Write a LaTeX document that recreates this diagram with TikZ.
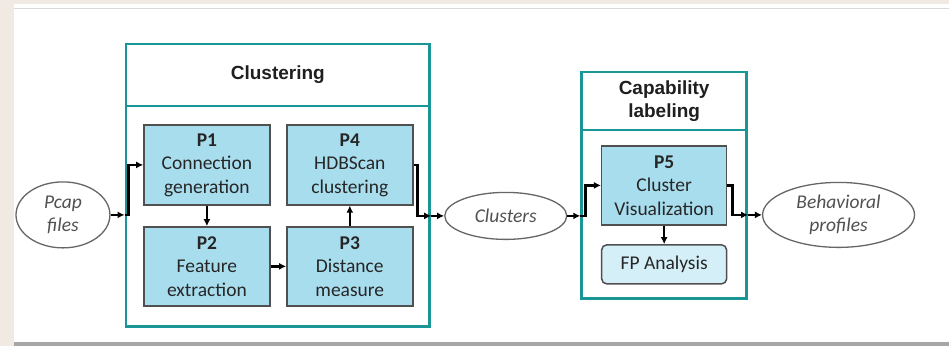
\documentclass[tikz,border=0pt]{standalone}
\usepackage{fontspec}
\setmainfont{Carlito}
\newfontfamily\titlefont{Liberation Sans}
\usetikzlibrary{arrows.meta,shapes.geometric}
\definecolor{teal1}{HTML}{1A9696}
\definecolor{pfill}{HTML}{A8DDEE}
\definecolor{fpfill}{HTML}{D4EFF8}
\definecolor{beige}{HTML}{F0EAE3}
\definecolor{boxline}{HTML}{505050}
\definecolor{txt}{HTML}{262626}
\tikzset{
  panel/.style={draw=teal1, line width=2.8pt, fill=white, rectangle, inner sep=0pt},
  ptitle/.style={font=\titlefont\bfseries\fontsize{19}{23}\selectfont, text=black!88, align=center},
  pbox/.style={draw=boxline, line width=1.5pt, fill=pfill, rectangle, inner sep=0pt,
    minimum width=126pt, minimum height=80pt, align=center, text=txt,
    font=\fontsize{19.5}{23.5}\selectfont},
  fpbox/.style={pbox, fill=fpfill, rounded corners=5pt, minimum height=39pt, minimum width=125pt},
  oval/.style={draw=black!60, line width=1.3pt, ellipse, inner sep=0pt, align=center, fill=white,
    text=txt!80, font=\itshape\fontsize{19.5}{23}\selectfont},
  conn/.style={line width=2.5pt, black, -{Latex[length=7pt,width=7pt]}}
}
\begin{document}
\begin{tikzpicture}[x=1pt,y=-1pt]
% background
\fill[beige] (0,0) rectangle (949,346);
\fill[white] (14,4) rectangle (949,342);
\draw[black!15, line width=1pt] (14,9) -- (949,9);
\fill[black!35] (14,342) rectangle (949,346);
\useasboundingbox (0,0) rectangle (949,346);
% clustering panel
\node[panel, minimum width=304pt, minimum height=62pt] (cltitle) at (278,75) {};
\node[ptitle] (cltext) at (cltitle.center) {Clustering};
\node[panel, minimum width=304pt, minimum height=221pt] (clbody) at (278,216.5) {};
\node[pbox] (p1) at (207,165) {\textbf{P1}\\Connection\\generation};
\node[pbox] (p4) at (350,165) {\textbf{P4}\\HDBScan\\clustering};
\node[pbox, minimum height=79pt] (p2) at (207,266.5) {\textbf{P2}\\Feature\\extraction};
\node[pbox, minimum height=79pt] (p3) at (350,266.5) {\textbf{P3}\\Distance\\measure};
% capability panel
\node[panel, minimum width=165pt, minimum height=58pt] (captitle) at (664.5,101) {};
\node[ptitle] (captext) at (captitle.center) {Capability\\labeling};
\node[panel, minimum width=165pt, minimum height=169pt] (capbody) at (664.5,214.5) {};
\node[pbox, minimum width=125pt, minimum height=79pt] (p5) at (664.5,185.5) {\textbf{P5}\\Cluster\\Visualization};
\node[fpbox] (fp) at (664.5,264.5) {FP Analysis};
% ovals
\node[oval, minimum width=94pt, minimum height=66pt] (pcap) at (63,215) {Pcap\\files};
\node[oval, minimum width=122pt, minimum height=47pt] (clusters) at (506,216) {Clusters};
\node[oval, minimum width=152pt, minimum height=65pt] (beh) at (839,215) {Behavioral\\profiles};
% connectors
\draw[conn] (pcap.east) -- (clbody.west |- pcap.east);
\draw[conn] (clbody.west |- pcap.east) -- ++(4,0) |- (p1.west);
\draw[conn] (p1.south) -- (p2.north);
\draw[conn] (p2.east) -- (p3.west);
\draw[conn] (p3.north) -- (p4.south);
\draw[conn] (p4.east) -- ++(4,0) |- (clbody.east |- clusters.west);
\draw[conn] (clbody.east |- clusters.west) -- (clusters.west);
\draw[conn] (clusters.east) -- (capbody.west |- clusters.east);
\draw[conn] (capbody.west |- clusters.east) -- ++(5,0) |- (p5.west);
\draw[conn] (p5.south) -- (fp.north);
\draw[conn] (p5.east) -- ++(5,0) |- (capbody.east |- beh.west);
\draw[conn] (capbody.east |- beh.west) -- (beh.west);
\end{tikzpicture}
\end{document}
